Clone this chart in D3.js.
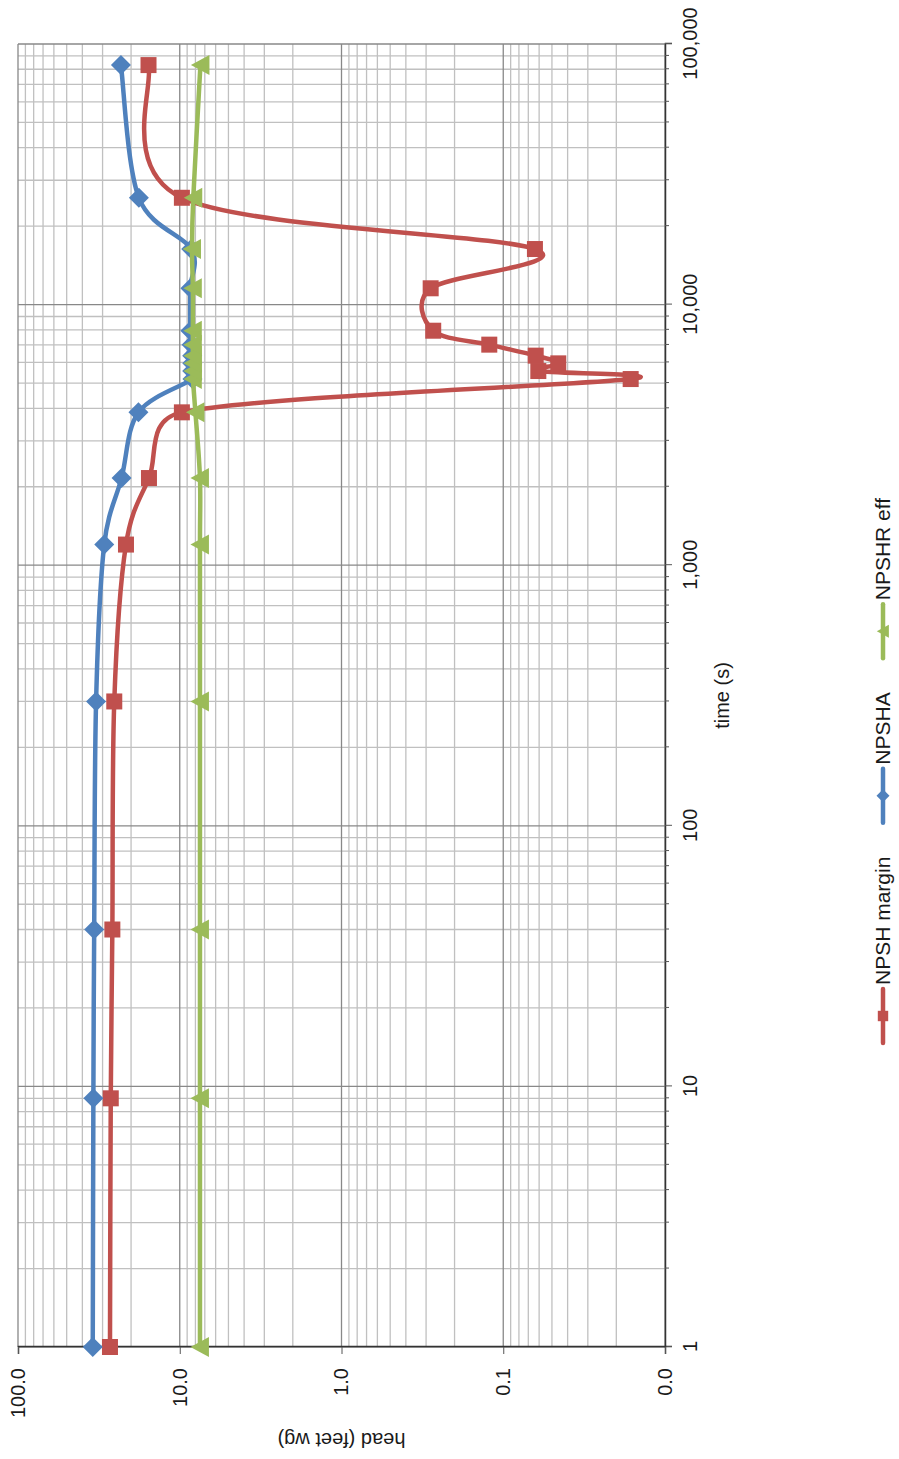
<!DOCTYPE html>
<html>
<head>
<meta charset="utf-8">
<script src="https://cdn.jsdelivr.net/npm/d3@7"></script>
<style>
  body { margin: 0; background: #fff; }
  text { font-family: "Liberation Sans", Arial, sans-serif; fill: #1a1a1a; }
</style>
</head>
<body>
<script>
// values (time in s, head in feet wg)
var times = [1, 9, 40, 300, 1200, 2160, 3860, 5180, 5560, 5950, 6370, 7020, 7940, 11550, 16340, 25700, 83000];
var npshMargin = [27.0, 26.7, 26.1, 25.4, 21.5, 15.5, 9.7, 0.0163, 0.0607, 0.0457, 0.063, 0.122, 0.271, 0.281, 0.0637, 9.7, 15.6];
var npsha = [34.5, 34.2, 33.8, 32.9, 29.3, 22.9, 18.0, 8.35, 8.38, 8.37, 8.38, 8.45, 8.6, 8.6, 8.5, 17.9, 23.1];
var npshrEff = [7.5, 7.5, 7.5, 7.5, 7.5, 7.5, 8.0, 8.3, 8.3, 8.3, 8.3, 8.3, 8.3, 8.3, 8.4, 8.25, 7.45];

var timeTicks = [1, 10, 100, 1000, 10000, 100000];
var headTicks = [0.01, 0.1, 1, 10, 100];

var seriesNames = ["NPSH margin", "NPSHA", "NPSHR eff"];
var seriesValues = [npshMargin, npsha, npshrEff];
var colors = ["#C0504D", "#4F81BD", "#9BBB59"];
var shapes = ["square", "diamond", "triangle"];

// chart is drawn landscape, then turned a quarter to the left
var W = 1459, H = 899;

var x = d3.scaleLog().domain([1, 100000]).range([112, 1415]);
var y = d3.scaleLog().domain([0.01, 100]).range([665, 18]);

function minors(lo, hi) {
  var out = [];
  for (var e = lo; e < hi; e++)
    for (var k = 2; k <= 9; k++) out.push(k * Math.pow(10, e));
  return out;
}
var timeMinor = minors(0, 5);
var headMinor = minors(-2, 2);

var svg = d3.select("body").append("svg")
    .attr("width", H)
    .attr("height", W);

var g = svg.append("g")
    .attr("transform", "translate(0," + W + ") rotate(-90)");

// grid
var grid = g.append("g");
grid.selectAll(".vmin").data(timeMinor).enter().append("line")
    .attr("x1", function(d) { return x(d); }).attr("x2", function(d) { return x(d); })
    .attr("y1", y(100)).attr("y2", y(0.01))
    .attr("stroke", "#c0c0c0").attr("stroke-width", 1.3);
grid.selectAll(".hmin").data(headMinor).enter().append("line")
    .attr("y1", function(d) { return y(d); }).attr("y2", function(d) { return y(d); })
    .attr("x1", x(1)).attr("x2", x(100000))
    .attr("stroke", "#c0c0c0").attr("stroke-width", 1.3);
grid.selectAll(".vmaj").data(timeTicks).enter().append("line")
    .attr("x1", function(d) { return x(d); }).attr("x2", function(d) { return x(d); })
    .attr("y1", y(100)).attr("y2", y(0.01))
    .attr("stroke", "#888").attr("stroke-width", 1.3);
grid.selectAll(".hmaj").data(headTicks).enter().append("line")
    .attr("y1", function(d) { return y(d); }).attr("y2", function(d) { return y(d); })
    .attr("x1", x(1)).attr("x2", x(100000))
    .attr("stroke", "#888").attr("stroke-width", 1.3);

// axes
var xAxis = g.append("g")
    .attr("transform", "translate(0," + y(0.01) + ")")
    .call(d3.axisBottom(x).tickValues(timeTicks).tickSize(7).tickFormat(d3.format(",")));
g.append("g")
    .attr("transform", "translate(0," + y(0.01) + ")")
    .call(d3.axisBottom(x).tickValues(timeMinor).tickSize(4).tickFormat(""))
    .call(function(a) { a.select(".domain").remove(); });
var yAxis = g.append("g")
    .attr("transform", "translate(" + x(1) + ",0)")
    .call(d3.axisLeft(y).tickValues(headTicks).tickSize(7).tickPadding(14).tickFormat(d3.format(".1f")));

[xAxis, yAxis].forEach(function(a) {
  a.select(".domain").attr("stroke", "#333").attr("stroke-width", 1.5);
  a.selectAll("text").style("font-size", "20px").attr("font-family", null);
});
xAxis.selectAll("text").attr("y", 32).attr("dy", 0);
g.selectAll(".tick line").attr("stroke", "#555");

// titles
g.append("text")
    .attr("x", (x.range()[0] + x.range()[1]) / 2).attr("y", 729)
    .attr("text-anchor", "middle").style("font-size", "20px")
    .text("time (s)");
g.append("text")
    .attr("transform", "translate(26," + (y.range()[0] + y.range()[1]) / 2 + ") rotate(-90)")
    .attr("text-anchor", "middle").style("font-size", "20px")
    .text("head (feet wg)");

// markers
function marker(sel, shape, s) {
  if (shape === "square") {
    sel.append("rect").attr("x", -8 * s).attr("y", -8 * s).attr("width", 16 * s).attr("height", 16 * s);
  } else if (shape === "diamond") {
    sel.append("path").attr("d", "M0," + (-10 * s) + "L" + (10 * s) + ",0L0," + (10 * s) + "L" + (-10 * s) + ",0Z");
  } else {
    sel.append("path").attr("d", "M0," + (-9.5 * s) + "L" + (10 * s) + "," + (9 * s) + "L" + (-10 * s) + "," + (9 * s) + "Z");
  }
}

// spreadsheet-style smoothing: bezier handles of 1/6 the neighbour chord,
// capped at half the segment length
function smoothPath(p) {
  var path = d3.path();
  function dist(a, b) { return Math.hypot(b[0] - a[0], b[1] - a[1]); }
  path.moveTo(p[0][0], p[0][1]);
  for (var i = 0; i < p.length - 1; i++) {
    var p0 = p[i - 1] || p[i], p1 = p[i], p2 = p[i + 1], p3 = p[i + 2] || p[i + 1];
    var d12 = dist(p1, p2), d02 = dist(p0, p2), d13 = dist(p1, p3);
    var f1 = d02 > 0 ? Math.min(1 / 6, d12 / (2 * d02)) : 0;
    var f2 = d13 > 0 ? Math.min(1 / 6, d12 / (2 * d13)) : 0;
    path.bezierCurveTo(
      p1[0] + (p2[0] - p0[0]) * f1, p1[1] + (p2[1] - p0[1]) * f1,
      p2[0] - (p3[0] - p1[0]) * f2, p2[1] - (p3[1] - p1[1]) * f2,
      p2[0], p2[1]);
  }
  return path.toString();
}

seriesValues.forEach(function(vals, i) {
  var pts = times.map(function(t, j) { return {t: t, v: vals[j]}; });
  var sg = g.append("g");
  sg.append("path")
      .attr("d", smoothPath(pts.map(function(d) { return [x(d.t), y(d.v)]; })))
      .attr("fill", "none")
      .attr("stroke", colors[i])
      .attr("stroke-width", 4.5)
      .attr("stroke-linejoin", "round");
  sg.selectAll(".m").data(pts).enter().append("g")
      .attr("transform", function(d) { return "translate(" + x(d.t) + "," + y(d.v) + ")"; })
      .attr("fill", colors[i])
      .each(function() { marker(d3.select(this), shapes[i], 1); });
});

// legend
var lx = 416, ly = 883;
seriesNames.forEach(function(name, i) {
  var lg = g.append("g").attr("transform", "translate(" + lx + "," + ly + ")");
  lg.append("line").attr("x1", 0).attr("x2", 54)
      .attr("stroke", colors[i]).attr("stroke-width", 4.5).attr("stroke-linecap", "round");
  var mg = lg.append("g").attr("transform", "translate(27,0)").attr("fill", colors[i]);
  marker(mg, shapes[i], 0.65);
  var t = lg.append("text").attr("x", 58).attr("dy", "0.35em").style("font-size", "21px").text(name);
  lx += 58 + t.node().getComputedTextLength() + 34;
});
</script>
</body>
</html>
